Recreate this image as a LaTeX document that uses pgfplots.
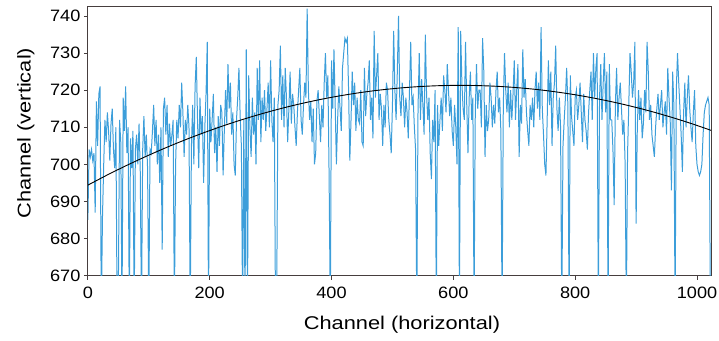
\documentclass[border=0pt]{standalone}
\usepackage{pgfplots}
\pgfplotsset{compat=1.18}
\usepackage{fontspec}
\setmainfont[FakeStretch=1.18]{Liberation Sans}
\newfontfamily\tickfont[FakeStretch=1.1]{Liberation Sans}
\definecolor{lineblue}{RGB}{60,158,218}
\definecolor{framec}{RGB}{70,62,62}
\begin{document}
\begin{tikzpicture}
\begin{axis}[
 name=ax,
 width=624pt, height=270pt, scale only axis,
 xmin=0, xmax=1023, ymin=670, ymax=742.7,
 xtick={0,200,...,1000}, ytick={670,680,...,740},
 tick align=outside, tick pos=left,
 major tick length=4pt,
 axis line style={draw=framec, line width=0.9pt},
 tick style={draw=framec, line width=0.9pt},
 ticklabel style={font=\tickfont\fontsize{16.5}{16.5}\selectfont},
 xticklabel style={yshift=-4pt},
 /pgf/number format/assume math mode=true,
 /pgf/number format/1000 sep={},
 xlabel={Channel (horizontal)}, ylabel={Channel (vertical)},
 label style={font=\fontsize{18.5}{18.5}\selectfont},
 xlabel style={at={(axis description cs:0.504,-0.2)}, anchor=base},
 ylabel style={at={(axis description cs:-0.092,0.528)}, anchor=base},
]
\addplot[color=lineblue, line width=1.0pt] table[row sep=\\] {
x y \\
0 685 \\ 2 704 \\ 4 702 \\ 6 704 \\ 8 701 \\ 10 703 \\ 12 687 \\ 14 717 \\ 16 705 \\ 18 719 \\
20 721 \\ 22 660 \\ 24 686 \\ 26 700 \\ 28 712 \\ 30 706 \\ 32 714 \\ 34 709 \\ 36 701 \\ 38 711 \\
40 715 \\ 42 704 \\ 44 699 \\ 46 710 \\ 48 660 \\ 50 665 \\ 52 712 \\ 54 706 \\ 56 660 \\ 58 718 \\
60 709 \\ 62 721 \\ 64 703 \\ 66 710 \\ 68 660 \\ 70 707 \\ 72 699 \\ 74 709 \\ 76 660 \\ 78 704 \\
80 708 \\ 82 700 \\ 84 711 \\ 86 698 \\ 88 660 \\ 90 704 \\ 92 713 \\ 94 702 \\ 96 708 \\ 98 699 \\
100 660 \\ 102 704 \\ 104 703 \\ 106 709 \\ 108 716 \\ 110 705 \\ 112 712 \\ 114 700 \\ 116 708 \\ 118 695 \\
120 710 \\ 122 677 \\ 124 715 \\ 126 718 \\ 128 708 \\ 130 716 \\ 132 702 \\ 134 711 \\ 136 705 \\ 138 708 \\
140 712 \\ 142 660 \\ 144 700 \\ 146 712 \\ 148 707 \\ 150 716 \\ 152 710 \\ 154 722 \\ 156 714 \\ 158 702 \\
160 712 \\ 162 708 \\ 164 716 \\ 166 710 \\ 168 660 \\ 170 705 \\ 172 716 \\ 174 700 \\ 176 721 \\ 178 729 \\
180 712 \\ 182 699 \\ 184 718 \\ 186 708 \\ 188 713 \\ 190 695 \\ 192 710 \\ 194 719 \\ 196 733 \\ 198 660 \\
200 715 \\ 202 706 \\ 204 712 \\ 206 719 \\ 208 703 \\ 210 710 \\ 212 698 \\ 214 713 \\ 216 705 \\ 218 716 \\
220 714 \\ 222 697 \\ 224 709 \\ 226 720 \\ 228 711 \\ 230 727 \\ 232 715 \\ 234 722 \\ 236 708 \\ 238 714 \\
240 700 \\ 242 697 \\ 244 712 \\ 246 718 \\ 248 726 \\ 250 713 \\ 252 705 \\ 254 660 \\ 256 712 \\ 258 660 \\
260 731 \\ 262 660 \\ 264 724 \\ 266 710 \\ 268 702 \\ 270 718 \\ 272 708 \\ 274 714 \\ 276 700 \\ 278 726 \\
280 712 \\ 282 728 \\ 284 706 \\ 286 718 \\ 288 712 \\ 290 720 \\ 292 709 \\ 294 715 \\ 296 722 \\ 298 710 \\
300 728 \\ 302 712 \\ 304 706 \\ 306 718 \\ 308 660 \\ 310 665 \\ 312 716 \\ 314 720 \\ 316 732 \\ 318 712 \\
320 724 \\ 322 710 \\ 324 726 \\ 326 718 \\ 328 706 \\ 330 715 \\ 332 725 \\ 334 711 \\ 336 719 \\ 338 716 \\
340 710 \\ 342 705 \\ 344 714 \\ 346 720 \\ 348 726 \\ 350 712 \\ 352 708 \\ 354 716 \\ 356 722 \\ 358 718 \\
360 742 \\ 362 720 \\ 364 712 \\ 366 717 \\ 368 706 \\ 370 715 \\ 372 700 \\ 374 703 \\ 376 717 \\ 378 720 \\
380 713 \\ 382 706 \\ 384 716 \\ 386 710 \\ 388 722 \\ 390 730 \\ 392 718 \\ 394 724 \\ 396 697 \\ 398 660 \\
400 728 \\ 402 715 \\ 404 731 \\ 406 716 \\ 408 700 \\ 410 712 \\ 412 721 \\ 414 715 \\ 416 709 \\ 418 726 \\
420 730 \\ 422 734 \\ 424 733 \\ 426 734 \\ 428 720 \\ 430 701 \\ 432 712 \\ 434 725 \\ 436 716 \\ 438 722 \\
440 709 \\ 442 718 \\ 444 712 \\ 446 711 \\ 448 720 \\ 450 706 \\ 452 705 \\ 454 726 \\ 456 713 \\ 458 719 \\
460 722 \\ 462 728 \\ 464 712 \\ 466 718 \\ 468 707 \\ 470 736 \\ 472 718 \\ 474 724 \\ 476 730 \\ 478 712 \\
480 719 \\ 482 715 \\ 484 705 \\ 486 716 \\ 488 710 \\ 490 722 \\ 492 720 \\ 494 712 \\ 496 708 \\ 498 703 \\
500 716 \\ 502 736 \\ 504 720 \\ 506 712 \\ 508 725 \\ 510 740 \\ 512 718 \\ 514 713 \\ 516 722 \\ 518 718 \\
520 710 \\ 522 718 \\ 524 714 \\ 526 707 \\ 528 720 \\ 530 733 \\ 532 716 \\ 534 718 \\ 536 710 \\ 538 704 \\
540 660 \\ 542 715 \\ 544 730 \\ 546 712 \\ 548 723 \\ 550 716 \\ 552 708 \\ 554 735 \\ 556 719 \\ 558 712 \\
560 718 \\ 562 703 \\ 564 696 \\ 566 712 \\ 568 706 \\ 570 720 \\ 572 660 \\ 574 716 \\ 576 705 \\ 578 712 \\
580 718 \\ 582 709 \\ 584 724 \\ 586 720 \\ 588 714 \\ 590 727 \\ 592 720 \\ 594 713 \\ 596 718 \\ 598 709 \\
600 705 \\ 602 716 \\ 604 710 \\ 606 700 \\ 608 737 \\ 610 660 \\ 612 736 \\ 614 722 \\ 616 715 \\ 618 712 \\
620 733 \\ 622 716 \\ 624 703 \\ 626 718 \\ 628 725 \\ 630 712 \\ 632 718 \\ 634 660 \\ 636 714 \\ 638 727 \\
640 715 \\ 642 720 \\ 644 720 \\ 646 710 \\ 648 734 \\ 650 725 \\ 652 702 \\ 654 716 \\ 656 709 \\ 658 712 \\
660 722 \\ 662 718 \\ 664 710 \\ 666 716 \\ 668 711 \\ 670 720 \\ 672 725 \\ 674 714 \\ 676 718 \\ 678 709 \\
680 660 \\ 682 716 \\ 684 730 \\ 686 720 \\ 688 714 \\ 690 722 \\ 692 710 \\ 694 720 \\ 696 712 \\ 698 719 \\
700 728 \\ 702 712 \\ 704 720 \\ 706 727 \\ 708 702 \\ 710 716 \\ 712 711 \\ 714 731 \\ 716 718 \\ 718 723 \\
720 714 \\ 722 709 \\ 724 705 \\ 726 716 \\ 728 712 \\ 730 718 \\ 732 710 \\ 734 720 \\ 736 725 \\ 738 715 \\
740 722 \\ 742 712 \\ 744 737 \\ 746 715 \\ 748 708 \\ 750 700 \\ 752 697 \\ 754 712 \\ 756 728 \\ 758 716 \\
760 725 \\ 762 705 \\ 764 718 \\ 766 722 \\ 768 732 \\ 770 715 \\ 772 709 \\ 774 718 \\ 776 710 \\ 778 660 \\
780 705 \\ 782 712 \\ 784 718 \\ 786 726 \\ 788 716 \\ 790 660 \\ 792 724 \\ 794 713 \\ 796 709 \\ 798 705 \\
800 718 \\ 802 720 \\ 804 712 \\ 806 716 \\ 808 722 \\ 810 714 \\ 812 706 \\ 814 719 \\ 816 712 \\ 818 709 \\
820 704 \\ 822 714 \\ 824 720 \\ 826 725 \\ 828 712 \\ 830 730 \\ 832 718 \\ 834 726 \\ 836 730 \\ 838 660 \\
840 718 \\ 842 727 \\ 844 712 \\ 846 722 \\ 848 730 \\ 850 714 \\ 852 725 \\ 854 660 \\ 856 727 \\ 858 712 \\
860 712 \\ 862 704 \\ 864 689 \\ 866 716 \\ 868 726 \\ 870 712 \\ 872 718 \\ 874 722 \\ 876 715 \\ 878 708 \\
880 712 \\ 882 700 \\ 884 660 \\ 886 703 \\ 888 716 \\ 890 730 \\ 892 725 \\ 894 718 \\ 896 722 \\ 898 733 \\
900 684 \\ 902 710 \\ 904 720 \\ 906 712 \\ 908 718 \\ 910 707 \\ 912 711 \\ 914 720 \\ 916 714 \\ 918 733 \\
920 725 \\ 922 712 \\ 924 716 \\ 926 708 \\ 928 705 \\ 930 702 \\ 932 710 \\ 934 715 \\ 936 719 \\ 938 712 \\
940 716 \\ 942 720 \\ 944 710 \\ 946 714 \\ 948 717 \\ 950 708 \\ 952 726 \\ 954 718 \\ 956 712 \\ 958 693 \\
960 725 \\ 962 716 \\ 964 660 \\ 966 720 \\ 968 730 \\ 970 722 \\ 972 715 \\ 974 708 \\ 976 698 \\ 978 714 \\
980 722 \\ 982 710 \\ 984 718 \\ 986 724 \\ 988 715 \\ 990 710 \\ 992 706 \\ 994 714 \\ 996 720 \\ 998 705 \\
1000 700 \\ 1002 698 \\ 1004 697 \\ 1006 698 \\ 1008 700 \\ 1010 708 \\ 1012 714 \\ 1014 716 \\ 1016 717 \\ 1018 718 \\
1020 716 \\ 1022 660 \\ 1023 660 \\
};
\addplot[black, line width=0.9pt, smooth] table[row sep=\\] {
x y \\
0 694.40 \\ 32 697.15 \\ 64 699.74 \\ 96 702.18 \\ 128 704.48 \\ 160 706.63 \\ 192 708.63 \\ 224 710.49 \\
256 712.20 \\ 288 713.76 \\ 320 715.18 \\ 352 716.45 \\ 384 717.57 \\ 416 718.54 \\ 448 719.37 \\ 480 720.05 \\
512 720.58 \\ 544 720.97 \\ 576 721.21 \\ 608 721.30 \\ 640 721.24 \\ 672 721.04 \\ 704 720.69 \\ 736 720.20 \\
768 719.55 \\ 800 718.76 \\ 832 717.82 \\ 864 716.74 \\ 896 715.51 \\ 928 714.13 \\ 960 712.60 \\ 992 710.93 \\
1023 709.17 \\
};
\end{axis}
\pgfresetboundingbox
\path[use as bounding box] ([shift={(-88pt,-65pt)}]ax.south west) rectangle ([shift={(8pt,6pt)}]ax.north east);
\end{tikzpicture}
\end{document}
